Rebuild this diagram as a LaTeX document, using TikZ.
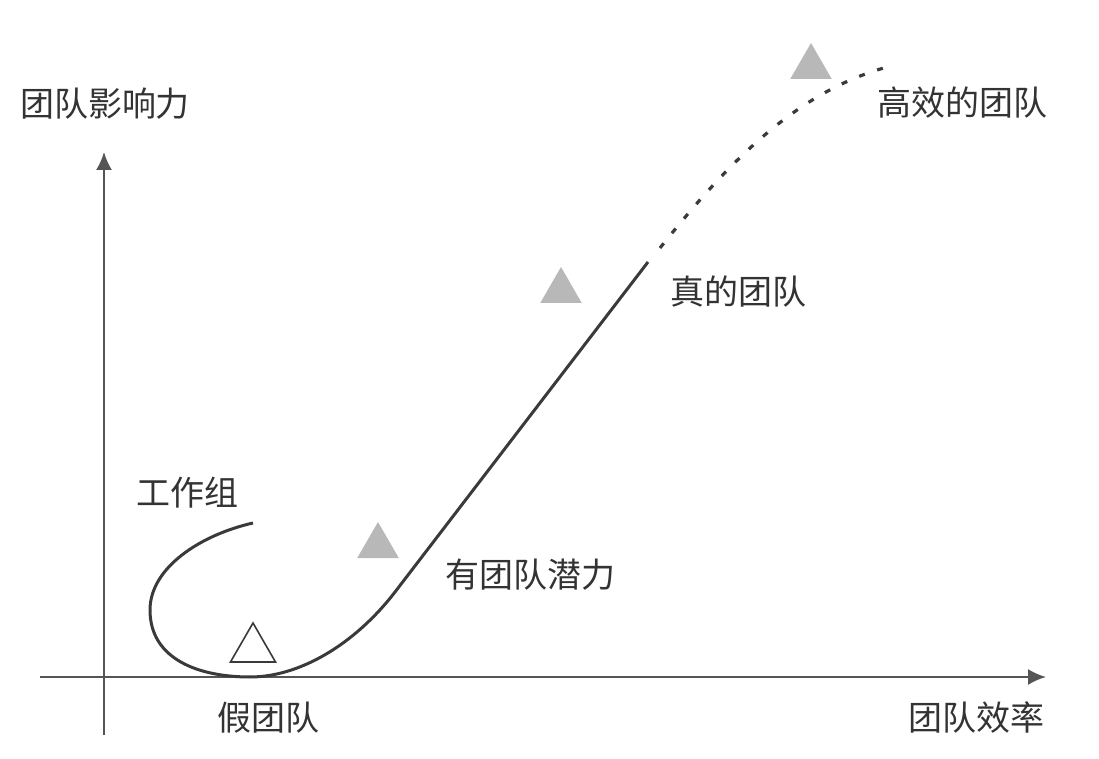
\documentclass[tikz,border=0pt]{standalone}
\usepackage{fontspec}
\newfontfamily\cjk{Noto Sans CJK SC}
\usetikzlibrary{arrows.meta,shapes.geometric}
\definecolor{axisgray}{HTML}{555555}
\definecolor{curvegray}{HTML}{3A3A3A}
\definecolor{markgray}{HTML}{B8B8B8}
\definecolor{textgray}{HTML}{333333}
\begin{document}
\begin{tikzpicture}[x=0.5pt,y=-0.5pt]
  \tikzset{txt/.style={text=textgray,font=\cjk\fontsize{17}{20}\selectfont,inner sep=0pt},
    axis/.style={axisgray,line width=1pt,-{Latex[length=9pt,width=8pt]}},
    filltri/.style={regular polygon,regular polygon sides=3,inner sep=0pt,minimum size=24pt,fill=markgray},
    opentri/.style={regular polygon,regular polygon sides=3,inner sep=0pt,minimum size=26pt,draw=curvegray,line width=0.8pt,fill=white}}
  \useasboundingbox (0,0) rectangle (1099,759);
  \coordinate (ybot) at (104,735);
  \coordinate (ytop) at (104,152);
  \coordinate (xleft) at (40,677);
  \coordinate (xright) at (1046,677);
  \draw[axis] (ybot) -- (ytop);
  \draw[axis] (xleft) -- (xright);
  \node[txt] (yl) at (105,104) {团队影响力};
  \node[txt] (xl) at (976,718) {团队效率};
  \coordinate (wg) at (253,523);
  \coordinate (wl) at (150,610);
  \coordinate (fb) at (250,677);
  \coordinate (pt) at (395,592);
  \coordinate (rt) at (648,262);
  \coordinate (ds) at (660,248);
  \coordinate (de) at (895,65);
  \draw[curvegray,line width=1.5pt] (wg) .. controls (200,535) and (150,568) .. (wl)
    .. controls (150,660) and (200,677) .. (fb)
    .. controls (300,677) and (355,644) .. (pt) -- (rt);
  \draw[curvegray,line width=1.6pt,dash pattern=on 3pt off 6.5pt] (ds) .. controls (730,160) and (800,88) .. (de);
  \node[opentri] (fake) at (253,649) {};
  \node[filltri] (pot) at (378,546) {};
  \node[filltri] (real) at (561,291) {};
  \node[filltri] (high) at (811,67) {};
  \node[txt] (wgl) at (187,493) {工作组};
  \node[txt] (fakel) at (268,718) {假团队};
  \node[txt] (potl) at (530,575) {有团队潜力};
  \node[txt] (reall) at (738,292) {真的团队};
  \node[txt] (highl) at (962,103) {高效的团队};
\end{tikzpicture}
\end{document}
